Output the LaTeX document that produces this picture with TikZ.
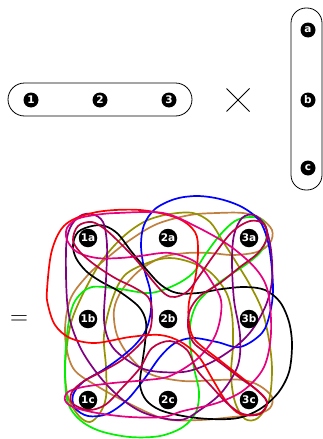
\documentclass[tikz,border=0pt]{standalone}
\usepackage{fontspec}
\newfontfamily\nodefont{DejaVu Sans Bold}
\definecolor{cpink}{RGB}{230,0,126}
\definecolor{ccrim}{RGB}{191,0,64}
\definecolor{cviol}{RGB}{128,0,128}
\definecolor{colive}{RGB}{150,145,0}
\definecolor{cbrown}{RGB}{191,128,64}
\definecolor{cgreen}{RGB}{0,240,0}
\tikzset{
  vtx/.style={circle,fill=black,text=white,inner sep=0.3pt,minimum size=15pt,font=\nodefont\fontsize{10.5}{10.5}\selectfont},
  gvtx/.style={vtx,minimum size=18.5pt},
  hedge/.style={line width=1.7pt,smooth cycle,tension=0.55},
  frame/.style={draw,line width=0.8pt}
}
\begin{document}
\begin{tikzpicture}[x=1pt,y=-1pt]
\useasboundingbox (0,0) rectangle (323,439);
% factors
\draw[frame,rounded corners=16.5pt] (8,83) rectangle (192,116);
\draw[frame,rounded corners=15pt] (291,8) rectangle (322,190);
\node[vtx] (n1) at (31,100) {1};
\node[vtx] (n2) at (100,100) {2};
\node[vtx] (n3) at (169,100) {3};
\node[vtx] (na) at (308,30) {a};
\node[vtx] (nb) at (308,100) {b};
\node[vtx] (nc) at (308,168) {c};
\coordinate (times) at (238,100);
\draw[line width=0.9pt] ([shift={(-11.5,-11.5)}]times) -- ([shift={(11.5,11.5)}]times);
\draw[line width=0.9pt] ([shift={(-11.5,11.5)}]times) -- ([shift={(11.5,-11.5)}]times);
\node (eq) at (19,320) {\fontsize{34}{34}\selectfont$=$};
% hyperedges
\draw[hedge,cbrown] plot coordinates {(70,300) (87,276) (107,258) (130,240) (157,224) (190,215) (217,213) (243,213) (260,218) (272,230) (270,243) (257,252) (233,255) (210,253) (187,253) (163,257) (140,270) (122,290) (114,310) (117,335) (130,357) (150,374) (183,381) (217,380) (243,380) (260,386) (272,397) (270,408) (257,414) (233,417) (200,420) (165,419) (130,404) (97,386) (73,368) (65,335)};
\draw[hedge,colive] plot coordinates {(193,213) (210,222) (222,240) (236,262) (250,285) (262,310) (269,340) (272,370) (269,400) (258,418) (245,419) (235,402) (231,375) (233,345) (232,315) (226,292) (210,272) (190,262) (170,258) (150,262) (125,275) (112,300) (104,335) (106,367) (106,397) (100,413) (90,422) (79,416) (68,397) (65,367) (70,327) (80,300) (97,268) (113,247) (130,231) (148,220) (170,214)};
\draw[hedge,cgreen] plot coordinates {(250,217) (262,220) (267,233) (262,250) (248,263) (230,275) (212,288) (198,302) (191,320) (190,343) (194,368) (199,392) (196,412) (183,427) (160,436) (130,437) (100,431) (80,420) (68,403) (65,375) (66,345) (70,315) (77,298) (92,287) (120,289) (150,293) (175,285) (193,273) (205,255) (220,235) (235,221)};
\draw[hedge,blue] plot coordinates {(262,333) (240,347) (217,342) (193,338) (175,343) (160,357) (145,378) (127,400) (107,414) (88,416) (75,408) (73,395) (83,382) (103,370) (120,358) (135,345) (146,330) (151,310) (150,290) (144,268) (141,245) (144,225) (155,209) (175,199) (197,196) (220,199) (242,207) (259,220) (267,238) (271,260) (273,290) (270,313)};
\draw[hedge,black] plot coordinates {(92,226) (105,226) (118,234) (131,251) (146,269) (161,285) (177,293) (198,293) (222,289) (245,287) (265,290) (280,302) (289,322) (292,345) (289,372) (278,393) (260,409) (238,418) (210,419) (183,416) (160,410) (146,400) (140,385) (142,365) (145,343) (146,322) (139,307) (120,292) (100,281) (86,271) (76,258) (73,245) (78,232)};
\draw[hedge,cviol] plot coordinates {(66,250) (70,228) (80,216) (92,214) (103,222) (107,245) (106,280) (104,320) (110,343) (123,357) (147,370) (183,372) (210,363) (235,347) (252,330) (266,305) (272,280) (271,250) (265,226) (254,215) (242,218) (234,235) (232,262) (234,300) (240,335) (238,365) (222,392) (200,410) (180,420) (147,414) (123,400) (100,377) (80,347) (68,310)};
\draw[hedge,red] plot coordinates {(47,290) (52,250) (66,224) (97,212) (140,210) (177,218) (195,232) (198,252) (195,280) (189,302) (189,322) (195,340) (222,362) (252,386) (267,402) (259,414) (240,414) (226,401) (213,380) (199,357) (181,342) (160,335) (130,337) (95,343) (70,338) (55,325) (48,305)};
\draw[hedge,cpink] plot coordinates {(117,213) (163,213) (197,227) (230,246) (256,269) (268,292) (271,333) (264,367) (244,390) (217,403) (183,411) (163,417) (130,417) (97,413) (73,407) (65,400) (68,392) (83,387) (113,383) (147,380) (170,376) (196,360) (213,340) (220,320) (221,300) (213,284) (197,263) (170,253) (140,256) (120,258) (97,258) (77,252) (67,240) (67,228) (77,219) (95,215)};
\draw[hedge,ccrim] plot coordinates {(78,226) (92,222) (106,230) (122,245) (138,262) (152,280) (165,294) (175,297) (188,291) (200,275) (214,255) (232,232) (250,221) (264,224) (267,238) (258,253) (240,267) (220,283) (200,296) (190,310) (188,327) (193,342) (205,352) (222,364) (240,378) (257,390) (267,402) (260,414) (243,414) (228,404) (212,387) (197,370) (187,350) (170,341) (152,348) (140,368) (122,388) (105,405) (88,410) (72,403) (72,392) (84,381) (103,371) (122,360) (140,344) (150,330) (152,310) (148,297) (135,288) (115,278) (95,265) (80,252) (73,240)};
% product vertices
\node[gvtx] (v1a) at (88,238) {1a};
\node[gvtx] (v2a) at (168,238) {2a};
\node[gvtx] (v3a) at (249,238) {3a};
\node[gvtx] (v1b) at (88,319) {1b};
\node[gvtx] (v2b) at (168,319) {2b};
\node[gvtx] (v3b) at (249,319) {3b};
\node[gvtx] (v1c) at (88,400) {1c};
\node[gvtx] (v2c) at (168,400) {2c};
\node[gvtx] (v3c) at (249,400) {3c};
\end{tikzpicture}
\end{document}
